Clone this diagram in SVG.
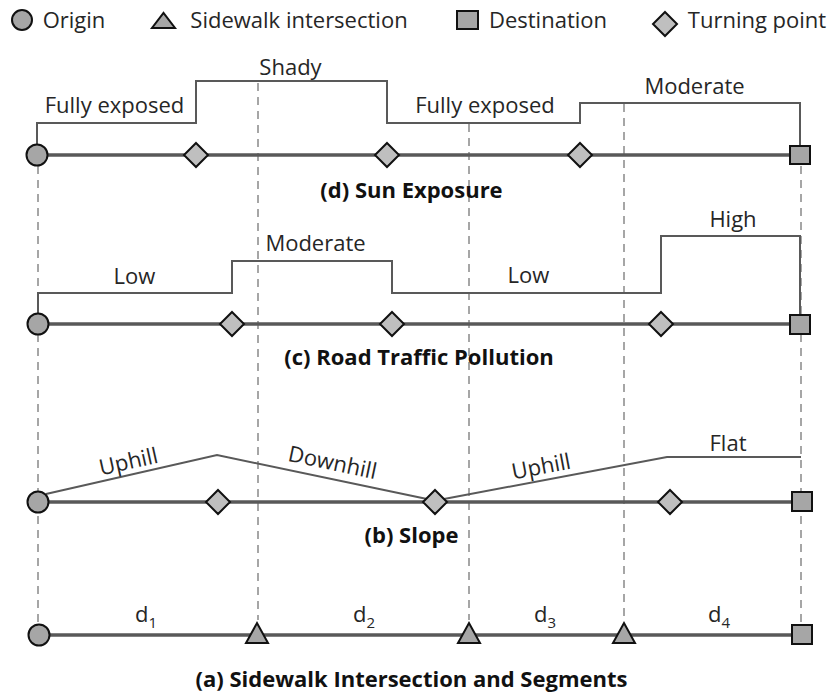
<svg xmlns="http://www.w3.org/2000/svg" width="833" height="696" viewBox="0 0 833 696">
<defs>
<style>
.lbl{font-family:"Open Sans","Liberation Sans",sans-serif;font-size:22px;fill:#262626;text-anchor:middle}
.ttl{font-family:"Open Sans","Liberation Sans",sans-serif;font-size:22px;font-weight:bold;fill:#111;text-anchor:middle}
.sub{font-size:15px}
.main{stroke:#595959;stroke-width:3.5;fill:none}
.step{stroke:#595959;stroke-width:2;fill:none}
.dash{stroke:#a6a6a6;stroke-width:2;stroke-dasharray:8 6;fill:none}
.end{fill:#a6a6a6;stroke:#111;stroke-width:2}
.turn{fill:#bfbfbf;stroke:#111;stroke-width:2}
</style>
<circle id="o" r="10.5"/>
</defs>
<rect width="833" height="696" fill="#fff"/>

<g id="legend">
<circle class="end" cx="22" cy="20" r="10"/>
<text class="lbl" x="74" y="28">Origin</text>
<polygon class="end" points="152,28 175,28 163.5,13"/>
<text class="lbl" x="299" y="28">Sidewalk intersection</text>
<rect class="end" x="457" y="11" width="21" height="18"/>
<text class="lbl" x="548" y="28">Destination</text>
<polygon class="turn" points="665,12 677,24 665,36 653,24"/>
<text class="lbl" x="757" y="28">Turning point</text>
</g>

<g id="connectors">
<path class="dash" d="M38,166 V623"/>
<path class="dash" d="M258,83 V620"/>
<path class="dash" d="M469,124 V620"/>
<path class="dash" d="M624,104 V620"/>
<path class="dash" d="M801,166 V624"/>
<path class="main" d="M38,155 H800"/>
<path class="main" d="M38,324 H800"/>
<path class="main" d="M38,502 H800"/>
<path class="main" d="M39,635 H800"/>
<path class="step" d="M37,145 V123 H196 V81 H387 V123 H580 V103 H800 V146"/>
<path class="step" d="M38,314 V293 H232 V261 H392 V293 H661 V236 H800 V315"/>
<path class="step" d="M46,494 L217,455 L427,499 M444,499 L667,457 H801"/>
</g>

<g id="row-d">
<circle class="end" cx="37" cy="155" r="10.5"/>
<polygon class="turn" points="196,143 208,155 196,167 184,155"/>
<polygon class="turn" points="387,143 399,155 387,167 375,155"/>
<polygon class="turn" points="580,143 592,155 580,167 568,155"/>
<rect class="end" x="790" y="146" width="20" height="18"/>
<text class="lbl" x="114.5" y="113">Fully exposed</text>
<text class="lbl" x="290.5" y="75">Shady</text>
<text class="lbl" x="485" y="113">Fully exposed</text>
<text class="lbl" x="694.5" y="94">Moderate</text>
<text class="ttl" x="411.5" y="198">(d) Sun Exposure</text>
</g>

<g id="row-c">
<circle class="end" cx="38" cy="324" r="10.5"/>
<polygon class="turn" points="232,312 244,324 232,336 220,324"/>
<polygon class="turn" points="392,312 404,324 392,336 380,324"/>
<polygon class="turn" points="661,312 673,324 661,336 649,324"/>
<rect class="end" x="790" y="315" width="20" height="19"/>
<text class="lbl" x="134.5" y="284">Low</text>
<text class="lbl" x="315.5" y="251">Moderate</text>
<text class="lbl" x="528.5" y="283">Low</text>
<text class="lbl" x="733" y="227">High</text>
<text class="ttl" x="419" y="365">(c) Road Traffic Pollution</text>
</g>

<g id="row-b">
<circle class="end" cx="38" cy="502" r="10.5"/>
<polygon class="turn" points="218,490 230,502 218,514 206,502"/>
<polygon class="turn" points="435,490 447,502 435,514 423,502"/>
<polygon class="turn" points="670,490 682,502 670,514 658,502"/>
<rect class="end" x="792" y="492" width="20" height="19"/>
<text class="lbl" transform="translate(130,469) rotate(-12.6)" x="0" y="0">Uphill</text>
<text class="lbl" transform="translate(331,470) rotate(11.9)" x="0" y="0">Downhill</text>
<text class="lbl" transform="translate(542.5,474) rotate(-10.7)" x="0" y="0">Uphill</text>
<text class="lbl" x="728" y="451">Flat</text>
<text class="ttl" x="411.5" y="543">(b) Slope</text>
</g>

<g id="row-a">
<circle class="end" cx="39" cy="635" r="10.5"/>
<polygon class="end" points="246,643 268,643 257,623"/>
<polygon class="end" points="458,643 480,643 469,623"/>
<polygon class="end" points="613,643 635,643 624,623"/>
<rect class="end" x="792" y="625" width="20" height="19"/>
<text class="lbl" x="146" y="622">d<tspan class="sub" dy="6">1</tspan></text>
<text class="lbl" x="364" y="622">d<tspan class="sub" dy="6">2</tspan></text>
<text class="lbl" x="545" y="622">d<tspan class="sub" dy="6">3</tspan></text>
<text class="lbl" x="719" y="622">d<tspan class="sub" dy="6">4</tspan></text>
<text class="ttl" x="411.5" y="687">(a) Sidewalk Intersection and Segments</text>
</g>
</svg>
